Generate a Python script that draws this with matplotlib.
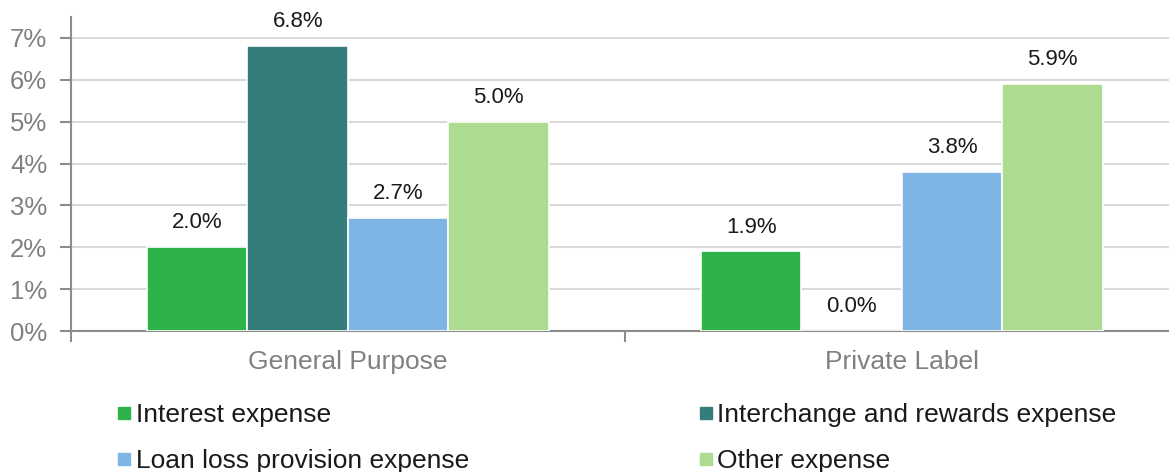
import matplotlib.pyplot as plt
import numpy as np
from matplotlib.lines import Line2D

plt.rcParams['font.family'] = ['Liberation Sans', 'DejaVu Sans']

categories = ['General Purpose', 'Private Label']
series = ['Interest expense', 'Interchange and rewards expense',
          'Loan loss provision expense', 'Other expense']
interest = [2.0, 1.9]
interchange = [6.8, 0.0]
loan_loss = [2.7, 3.8]
other = [5.0, 5.9]
colors = ['#2DB34A', '#347D7B', '#7FB5E4', '#ADDC91']

data = [interest, interchange, loan_loss, other]

fig = plt.figure(figsize=(11.69, 4.72), dpi=100)
ax = fig.add_axes([0.0607, 0.2987, 0.9393, 0.6653])

x = np.arange(len(categories))
w = 0.1814
for i, vals in enumerate(data):
    pos = x + (i - 1.5) * w
    ax.bar(pos, vals, width=w, color=colors[i], edgecolor='white', linewidth=1.2, zorder=3)
    for p, v in zip(pos, vals):
        ax.annotate(f'{v:.1f}%', (p, v), xytext=(0, 10), textcoords='offset points',
                    ha='center', va='bottom', fontsize=16, color='#1a1a1a')

ax.set_yticks(range(8))
ax.set_yticklabels([f'{i}%' for i in range(8)], fontsize=18.5, color='#808080')
ax.yaxis.grid(True, color='#d9d9d9', linewidth=1.5, zorder=0)
ax.set_axisbelow(True)

# category labels in between boundary ticks
ax.set_xticks([-0.5, 0.5, 1.5])
ax.set_xticklabels([])
ax.set_xticks(x, minor=True)
ax.set_xticklabels(categories, minor=True, fontsize=19, color='#808080')
ax.tick_params(axis='x', which='minor', length=0, pad=14)
ax.tick_params(axis='x', which='major', length=8, color='#8c8c8c', width=1.5)
ax.tick_params(axis='y', length=8, color='#8c8c8c', width=1.5, pad=9)
# limits after ticks, set_xticks would widen them
ax.set_ylim(0, 7.5)
ax.set_xlim(-0.5, 1.482)

for s in ['top', 'right']:
    ax.spines[s].set_visible(False)
ax.spines['left'].set_color('#8c8c8c')
ax.spines['left'].set_linewidth(1.5)
ax.spines['bottom'].set_color('#8c8c8c')
ax.spines['bottom'].set_linewidth(1.5)

handles = [Line2D([], [], marker='s', linestyle='none', markersize=9,
                  markerfacecolor=c, markeredgecolor=c) for c in colors]
order = [0, 2, 1, 3]
fig.legend([handles[i] for i in order], [series[i] for i in order], ncol=2,
           loc='upper left', bbox_to_anchor=(0.086, 0.174), frameon=False,
           fontsize=19, handletextpad=0.05, handlelength=0.8, columnspacing=8.55,
           labelspacing=0.83, labelcolor='#1a1a1a', borderpad=0)

fig.savefig('out.png', dpi=100)
